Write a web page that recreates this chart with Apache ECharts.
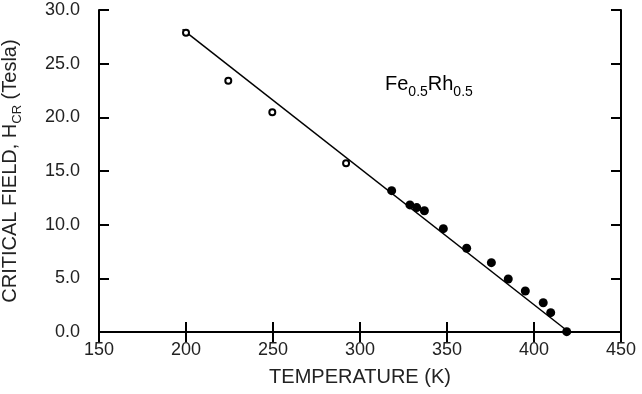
<!DOCTYPE html>
<html>
<head>
<meta charset="utf-8">
<script src="https://cdn.jsdelivr.net/npm/echarts@6/dist/echarts.min.js"></script>
<style>
html,body{margin:0;padding:0;background:#fff;}
#chart{width:642px;height:394px;}
</style>
</head>
<body>
<div id="chart"></div>
<script>
// Open circles (lower temperature measurements)
var openT = [200, 224.3, 249.6, 292];
var openH = [27.87, 23.42, 20.47, 15.72];
// Filled circles
var filledT = [318.2, 328.7, 332.6, 337, 347.9, 361.3, 375.5, 385.2, 395, 405.3, 409.6, 418.8];
var filledH = [13.17, 11.84, 11.59, 11.3, 9.63, 7.8, 6.46, 4.94, 3.82, 2.73, 1.8, 0.03];
// Straight fit line
var fitT = [198, 420];
var fitH = [28.2, 0];
// Axes
var xTicks = [150, 200, 250, 300, 350, 400, 450];
var yTicks = [0, 5, 10, 15, 20, 25, 30];

function zip(a, b) { return a.map(function (v, i) { return [v, b[i]]; }); }

var FONT = '"Liberation Sans", Arial, sans-serif';
var chart = echarts.init(document.getElementById('chart'), null, {renderer: 'canvas'});

var axisLineStyle = {show: true, lineStyle: {color: '#000', width: 2}};
var tickStyle = {show: true, inside: true, length: 10, lineStyle: {color: '#000', width: 2}};

chart.setOption({
  animation: false,
  backgroundColor: '#fff',
  grid: {left: 99, right: 21, top: 10, bottom: 62, containLabel: false, outerBoundsMode: 'none'},
  xAxis: [{
    type: 'value', min: xTicks[0], max: xTicks[xTicks.length - 1], interval: 50,
    position: 'bottom',
    axisLine: axisLineStyle, axisTick: tickStyle, splitLine: {show: false},
    axisLabel: {color: '#222', fontSize: 18, fontFamily: FONT, margin: 9},
    name: 'TEMPERATURE (K)', nameLocation: 'middle', nameGap: 35,
    nameTextStyle: {color: '#222', fontSize: 20, fontFamily: FONT}
  }, {
    type: 'value', min: xTicks[0], max: xTicks[xTicks.length - 1], interval: 50,
    position: 'top',
    axisLine: axisLineStyle, axisTick: tickStyle, splitLine: {show: false},
    axisLabel: {show: false}
  }],
  yAxis: [{
    type: 'value', min: yTicks[0], max: yTicks[yTicks.length - 1], interval: 5,
    position: 'left',
    axisLine: axisLineStyle, axisTick: tickStyle, splitLine: {show: false},
    axisLabel: {color: '#222', fontSize: 18, fontFamily: FONT, margin: 19,
      formatter: function (v) { return v.toFixed(1); }},
    name: '{a|CRITICAL FIELD, H}{s|CR}{a| (Tesla)}', nameLocation: 'middle', nameGap: 75, nameRotate: 90,
    nameTextStyle: {
      color: '#222', fontFamily: FONT,
      rich: {
        a: {fontSize: 20, fontFamily: FONT, color: '#222', lineHeight: 24, verticalAlign: 'top'},
        s: {fontSize: 13, fontFamily: FONT, color: '#222', lineHeight: 11, verticalAlign: 'bottom'}
      }
    }
  }, {
    type: 'value', min: yTicks[0], max: yTicks[yTicks.length - 1], interval: 5,
    position: 'right',
    axisLine: axisLineStyle, axisTick: tickStyle, splitLine: {show: false},
    axisLabel: {show: false}
  }],
  graphic: [{
    type: 'text', left: 385, top: 74,
    style: {
      text: '{a|Fe}{s|0.5}{a|Rh}{s|0.5}',
      rich: {
        a: {fontSize: 20, fontFamily: FONT, fill: '#000', lineHeight: 25, verticalAlign: 'top'},
        s: {fontSize: 14, fontFamily: FONT, fill: '#000', lineHeight: 12, verticalAlign: 'bottom'}
      }
    }
  }],
  series: [{
    type: 'line', data: zip(fitT, fitH), symbol: 'none',
    lineStyle: {color: '#000', width: 1.5}, z: 2
  }, {
    type: 'scatter', data: zip(openT, openH), symbol: 'circle', symbolSize: 6,
    itemStyle: {color: '#fff', borderColor: '#000', borderWidth: 2, opacity: 1}, z: 3
  }, {
    type: 'scatter', data: zip(filledT, filledH), symbol: 'circle', symbolSize: 9,
    itemStyle: {color: '#000', opacity: 1}, z: 3
  }]
});
</script>
</body>
</html>
